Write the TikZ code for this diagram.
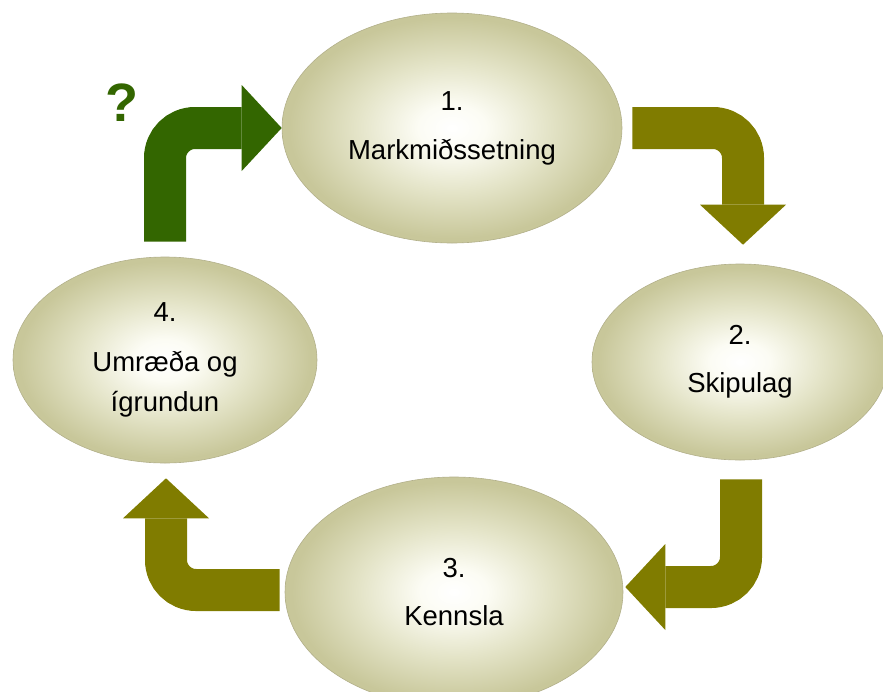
\documentclass[tikz,border=0pt]{standalone}
\usepackage{fontspec}
\setmainfont{Liberation Sans}
\usepackage{tikz}
\usetikzlibrary{arrows.meta, calc, shapes.geometric}
\usepackage{xcolor}
\definecolor{ArrowOlive}{RGB}{128,124,0}
\definecolor{ArrowGreen}{RGB}{51,102,0}
\definecolor{OvalEdge}{RGB}{200,199,154}
\definecolor{OvalMid}{RGB}{228,228,200}
\definecolor{OvalCenter}{RGB}{252,252,244}
\definecolor{OvalLine}{RGB}{178,176,138}
\pgfdeclareradialshading{ovalshade}{\pgfpointorigin}{%
  color(0bp)=(white); color(5bp)=(OvalCenter);
  color(14bp)=(OvalMid); color(24bp)=(OvalEdge); color(50bp)=(OvalEdge)}
\tikzset{%
  oval/.style={%
    ellipse,
    inner sep=0pt,
    shading=ovalshade,
    draw=OvalLine,
    line width=0.6pt,
    align=center,
    font={\fontsize{27.5}{40}\selectfont}%
  },
  bentarrow/.style={%
    line width=42pt,
    rounded corners=30pt,
    -{Triangle[length=40pt, width=86pt, line width=0pt]}%
  },
  query/.style={%
    text=ArrowGreen,
    font={\fontsize{54}{54}\selectfont\bfseries},
    inner sep=0pt%
  }
}

\begin{document}
\begin{tikzpicture}[x=1pt, y=-1pt]
    \useasboundingbox (0, 0) rectangle (883, 691);
    \clip (0, 0) rectangle (883, 691);

    \node [oval, minimum width=340, minimum height=230] (Goals)
      at (452, 128) {1.\\[9pt] Markmiðssetning};
    \node [oval, minimum width=296, minimum height=196] (Planning)
      at (740, 362) {2.\\[8pt] Skipulag};
    \node [oval, minimum width=338, minimum height=230] (Teaching)
      at (454, 592) {3.\\[8pt] Kennsla};
    \node [oval, minimum width=304, minimum height=206] (Reflection)
      at (165, 360) {4.\\[10pt] Umræða og\\ ígrundun};

    \node [query] (Query) at (122, 103) {?};

    \draw [bentarrow, draw=ArrowGreen]
      ($(Reflection.north)+(0, -15)$) |- (Goals.west);
    \draw [bentarrow, draw=ArrowOlive]
      ($(Goals.east)+(10, 0)$) -| ($(Planning.north)+(3, -19)$);
    \draw [bentarrow, draw=ArrowOlive]
      ($(Planning.south)+(1, 19)$) |- ($(Teaching.east)+(2, -5)$);
    \draw [bentarrow, draw=ArrowOlive]
      ($(Teaching.west)+(-5, -2)$) -| ($(Reflection.south)+(1, 15)$);
\end{tikzpicture}
\end{document}
